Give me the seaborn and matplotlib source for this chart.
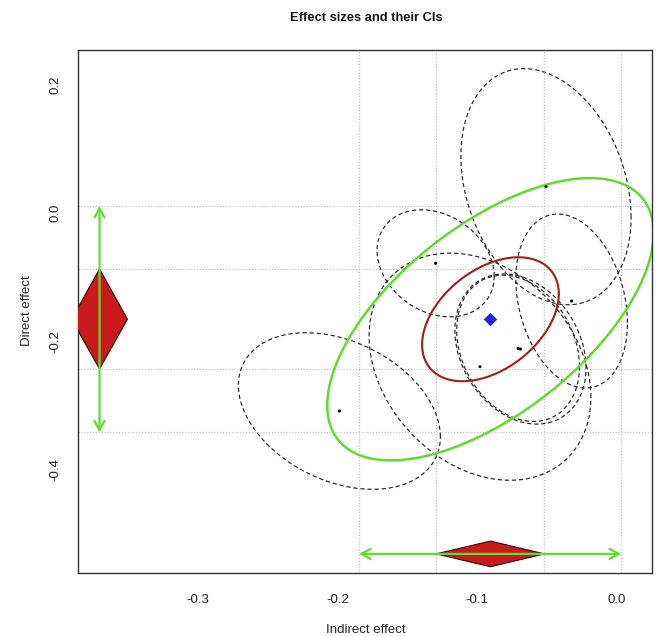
import numpy as np
import pandas as pd
import matplotlib
matplotlib.use("Agg")
import matplotlib.pyplot as plt
from matplotlib.patches import Polygon
import seaborn as sns

# ---- data ----
study = ["A", "B", "C", "D", "E", "F", "G"]
study_x = [-0.0507, -0.1298, -0.0323, -0.0707, -0.0690, -0.0980, -0.1988]   # indirect effect
study_y = [0.0406, -0.0788, -0.1376, -0.2113, -0.2124, -0.2399, -0.3090]    # direct effect
study_hx = [0.061, 0.042, 0.040, 0.044, 0.047, 0.0795, 0.0724]              # CI half-extent (x)
study_hy = [0.184, 0.0834, 0.1356, 0.114, 0.117, 0.177, 0.122]             # CI half-extent (y)
study_rho = [-0.26, -0.24, -0.25, -0.25, -0.25, -0.27, -0.33]

pooled_x = -0.0905
pooled_y = -0.166
conf_hx, conf_hy, conf_rho = 0.049, 0.0966, 0.41      # confidence region
pred_hx, pred_hy, pred_rho = 0.117, 0.220, 0.61       # prediction region

indirect_ci = [-0.1295, -0.0518]
indirect_pi = [-0.1847, 0.0031]
direct_ci = [-0.2434, -0.0876]
direct_pi = [-0.3424, 0.0104]

x_ticks = [-0.3, -0.2, -0.1, 0.0]
y_ticks = [0.2, 0.0, -0.2, -0.4]

# ---- figure ----
sns.set_style("white")
plt.rcParams["font.family"] = ["Liberation Sans", "DejaVu Sans"]

W, H = 659, 637
fig = plt.figure(figsize=(W / 100, H / 100), dpi=100)
ax = fig.add_axes([78.3 / W, 1 - 573.3 / H, (651.7 - 78.3) / W, (573.3 - 49.5) / H])
ax.set_xlim(-0.38595, 0.02509)
ax.set_ylim(-0.5619, 0.2544)


def ellipse_pts(cx, cy, hx, hy, rho, n=240):
    t = np.linspace(0, 2 * np.pi, n)
    return cx + hx * np.cos(t), cy + hy * (rho * np.cos(t) + np.sqrt(1 - rho ** 2) * np.sin(t))


# grid lines at CI / PI bounds
grid_kw = dict(color="#BDBDBD", lw=0.8, linestyle=(0, (1, 1.6)), zorder=0)
for v in indirect_ci + indirect_pi:
    ax.axvline(v, **grid_kw)
for h in direct_ci + direct_pi:
    ax.axhline(h, **grid_kw)

# study ellipses
rows = []
for s, cx, cy, hx, hy, r in zip(study, study_x, study_y, study_hx, study_hy, study_rho):
    ex, ey = ellipse_pts(cx, cy, hx, hy, r)
    for i, (a, b) in enumerate(zip(ex, ey)):
        rows.append((s, i, a, b))
ell = pd.DataFrame(rows, columns=["study", "order", "x", "y"])
for s, g in ell.groupby("study"):
    sns.lineplot(data=g, x="x", y="y", sort=False, estimator=None, ax=ax,
                 color="#222222", lw=0.85, linestyle=(0, (3.6, 2.4)), legend=False)

# pooled regions
px_, py_ = ellipse_pts(pooled_x, pooled_y, pred_hx, pred_hy, pred_rho)
sns.lineplot(x=px_, y=py_, sort=False, estimator=None, ax=ax, color="#5FDC2C", lw=1.8)
cx_, cy_ = ellipse_pts(pooled_x, pooled_y, conf_hx, conf_hy, conf_rho)
sns.lineplot(x=cx_, y=cy_, sort=False, estimator=None, ax=ax, color="#A31C1C", lw=1.5)

# study points and pooled estimate
pts = pd.DataFrame({"x": study_x, "y": study_y})
sns.scatterplot(data=pts, x="x", y="y", ax=ax, color="black", s=5, edgecolor="none", zorder=5)
sns.scatterplot(x=[pooled_x], y=[pooled_y], ax=ax, marker="D", color="#2020E8",
                s=40, edgecolor="#2020E8", zorder=6)

# marginal diamonds and intervals
x0 = ax.get_xlim()[0] + 0.04 / 1.08 * (ax.get_xlim()[1] - ax.get_xlim()[0])
y0 = ax.get_ylim()[0] + 0.04 / 1.08 * (ax.get_ylim()[1] - ax.get_ylim()[0])
d = 0.02
bottom_d = Polygon([(indirect_ci[0], y0), (pooled_x, y0 + d), (indirect_ci[1], y0), (pooled_x, y0 - d)],
                   closed=True, facecolor="#C8191B", edgecolor="#2a0a0a", lw=0.8, zorder=3)
left_d = Polygon([(x0, direct_ci[0]), (x0 + d, pooled_y), (x0, direct_ci[1]), (x0 - d, pooled_y)],
                 closed=True, facecolor="#C8191B", edgecolor="#2a0a0a", lw=0.8, zorder=3)
ax.add_patch(bottom_d)
ax.add_patch(left_d)

arrow_kw = dict(arrowstyle="<->,head_length=0.55,head_width=0.3", color="#5FDC2C",
                lw=1.6, shrinkA=0, shrinkB=0, mutation_scale=12)
ax.annotate("", xy=(indirect_pi[0], y0), xytext=(indirect_pi[1], y0), arrowprops=arrow_kw, zorder=4)
ax.annotate("", xy=(x0, direct_pi[0]), xytext=(x0, direct_pi[1]), arrowprops=arrow_kw, zorder=4)

# axes styling
ax.set_xticks(x_ticks)
ax.set_xticklabels(["-0.3", "-0.2", "-0.1", "0.0"])
ax.set_yticks(y_ticks)
ax.set_yticklabels(["0.2", "0.0", "-0.2", "-0.4"], rotation=90, va="center")
ax.tick_params(axis="both", direction="out", length=5, width=0.9, color="#333333",
               labelsize=9.5, labelcolor="#222222")
ax.tick_params(axis="x", pad=10)
ax.tick_params(axis="y", pad=7)
for sp in ax.spines.values():
    sp.set_color("#333333")
    sp.set_linewidth(1.0)
ax.set_xlabel("")
ax.set_ylabel("")

fig.text(366 / W, 1 - 18 / H, "Effect sizes and their CIs", ha="center", va="center",
         fontsize=9.3, fontweight="bold", color="#111111")
fig.text(366 / W, 1 - 630 / H, "Indirect effect", ha="center", va="center",
         fontsize=9.5, color="#222222")
fig.text(27 / W, 1 - 311 / H, "Direct effect", ha="center", va="center", rotation=90,
         fontsize=9.5, color="#222222")

fig.savefig("out.png", dpi=100)
